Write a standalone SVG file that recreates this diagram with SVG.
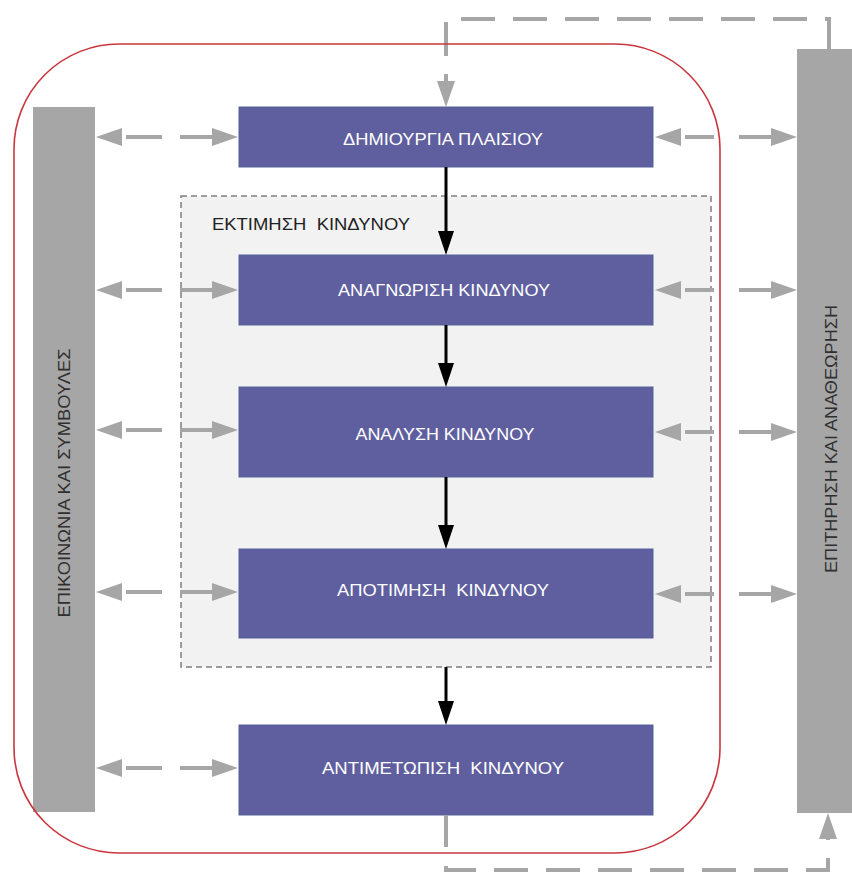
<svg xmlns="http://www.w3.org/2000/svg" width="852" height="872" viewBox="0 0 852 872">
  <style>
    .bar { fill: #a6a6a6; }
    .step rect { fill: #5f5f9f; stroke: #55609a; stroke-width: 1; }
    .step text { fill: #ffffff; font-family: "Liberation Sans", "DejaVu Sans", sans-serif; font-size: 16.5px; text-anchor: middle; }
    .vlabel { fill: #2f2f2f; font-family: "Liberation Sans", "DejaVu Sans", sans-serif; font-size: 17px; text-anchor: middle; }
    .flow { stroke: #000000; stroke-width: 3; fill: none; marker-end: url(#headBlack); }
    .link { stroke: #a6a6a6; stroke-width: 4; fill: none; }
    .both { marker-start: url(#headGray); marker-end: url(#headGray); }
  </style>
  <defs>
    <marker id="headGray" markerUnits="userSpaceOnUse" markerWidth="28" markerHeight="20" refX="0" refY="9" orient="auto-start-reverse">
      <path d="M0,0 L26,9 L0,18 Z" fill="#a6a6a6"/>
    </marker>
    <marker id="headBlack" markerUnits="userSpaceOnUse" markerWidth="26" markerHeight="18" refX="0" refY="8" orient="auto">
      <path d="M0,0 L24,8 L0,16 Z" fill="#000000"/>
    </marker>
  </defs>

  <rect width="852" height="872" fill="#ffffff"/>

  <!-- risk assessment grouping -->
  <g id="assessment">
    <rect x="181" y="196" width="530" height="471" fill="#f2f2f2" stroke="#7f7f7f" stroke-width="1.5" stroke-dasharray="6 4"/>
    <text x="212" y="230" fill="#222222" font-family="Liberation Sans, DejaVu Sans, sans-serif" font-size="16.5" textLength="198" lengthAdjust="spacingAndGlyphs" xml:space="preserve">ΕΚΤΙΜΗΣΗ  ΚΙΝΔΥΝΟΥ</text>
  </g>

  <!-- side bars -->
  <g id="communication">
    <rect class="bar" x="33" y="107" width="62" height="705"/>
    <text class="vlabel" transform="translate(70,483) rotate(-90)" textLength="269" lengthAdjust="spacingAndGlyphs">ΕΠΙΚΟΙΝΩΝΙΑ ΚΑΙ ΣΥΜΒΟΥΛΕΣ</text>
  </g>
  <g id="monitoring">
    <rect class="bar" x="797" y="49" width="55" height="764"/>
    <text class="vlabel" transform="translate(837,439) rotate(-90)" textLength="268" lengthAdjust="spacingAndGlyphs">ΕΠΙΤΗΡΗΣΗ ΚΑΙ ΑΝΑΘΕΩΡΗΣΗ</text>
  </g>

  <!-- process steps -->
  <g id="context" class="step">
    <rect x="239" y="107" width="414" height="60"/>
    <text x="443" y="145" textLength="200" lengthAdjust="spacingAndGlyphs">ΔΗΜΙΟΥΡΓΙΑ ΠΛΑΙΣΙΟΥ</text>
  </g>
  <g id="identification" class="step">
    <rect x="239" y="255" width="414" height="70"/>
    <text x="444" y="296" textLength="212" lengthAdjust="spacingAndGlyphs">ΑΝΑΓΝΩΡΙΣΗ ΚΙΝΔΥΝΟΥ</text>
  </g>
  <g id="analysis" class="step">
    <rect x="239" y="387" width="414" height="90"/>
    <text x="445" y="440" textLength="179" lengthAdjust="spacingAndGlyphs">ΑΝΑΛΥΣΗ ΚΙΝΔΥΝΟΥ</text>
  </g>
  <g id="evaluation" class="step">
    <rect x="239" y="549" width="414" height="89"/>
    <text x="443" y="596" textLength="212" lengthAdjust="spacingAndGlyphs" xml:space="preserve">ΑΠΟΤΙΜΗΣΗ  ΚΙΝΔΥΝΟΥ</text>
  </g>
  <g id="treatment" class="step">
    <rect x="239" y="725" width="414" height="90"/>
    <text x="443" y="774" textLength="242" lengthAdjust="spacingAndGlyphs" xml:space="preserve">ΑΝΤΙΜΕΤΩΠΙΣΗ  ΚΙΝΔΥΝΟΥ</text>
  </g>

  <!-- connectors -->
  <g id="connectors">
    <!-- main flow -->
    <path class="flow" d="M446,167 V231"/>
    <path class="flow" d="M446,325 V363"/>
    <path class="flow" d="M446,477 V525"/>
    <path class="flow" d="M446,667 V701"/>

    <!-- communication links -->
    <path class="link both" d="M122,137 H212" stroke-dasharray="0 4 36 18 60"/>
    <path class="link both" d="M122,290 H212" stroke-dasharray="0 4 36 18 60"/>
    <path class="link both" d="M122,430 H212" stroke-dasharray="0 4 36 18 60"/>
    <path class="link both" d="M122,592 H212" stroke-dasharray="0 4 36 18 60"/>
    <path class="link both" d="M122,768 H212" stroke-dasharray="0 4 36 18 60"/>

    <!-- monitoring links -->
    <path class="link both" d="M681,137 H771" stroke-dasharray="0 4 29 25 60"/>
    <path class="link both" d="M681,290 H771" stroke-dasharray="0 4 29 25 60"/>
    <path class="link both" d="M681,432 H771" stroke-dasharray="0 4 29 25 60"/>
    <path class="link both" d="M681,594 H771" stroke-dasharray="0 4 29 25 60"/>

    <!-- review loop back to the context step -->
    <path class="link" d="M829,49 V19 H446 V81" stroke-dasharray="34 18" marker-end="url(#headGray)"/>
    <!-- treatment output to monitoring -->
    <path class="link" d="M446,815 V847" stroke-width="3"/>
    <path class="link" d="M446,866 V870 H828 V839" stroke-width="3" stroke-dasharray="34 18" marker-end="url(#headGray)"/>
  </g>

  <!-- process boundary -->
  <g id="boundary">
    <rect x="14" y="44" width="706" height="809" rx="105" ry="105" fill="none" stroke="#c9363e" stroke-width="1.6"/>
  </g>
</svg>
